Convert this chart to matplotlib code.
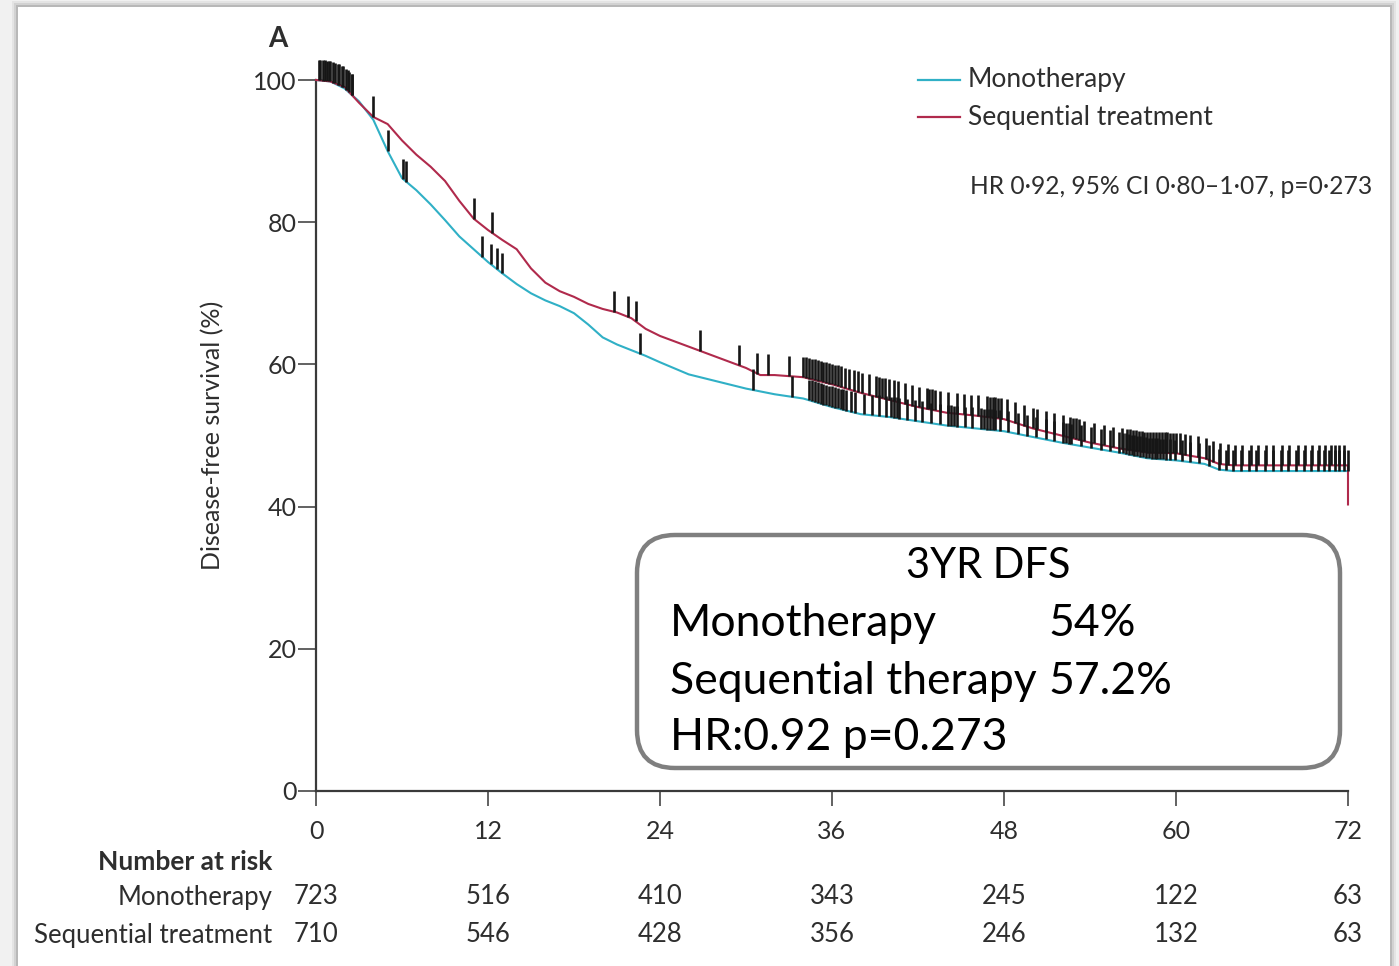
import numpy as np
import matplotlib
matplotlib.use("Agg")
import matplotlib.pyplot as plt
from matplotlib.patches import FancyBboxPatch, Rectangle
from matplotlib.lines import Line2D
from matplotlib.transforms import IdentityTransform, blended_transform_factory

# ---- data -------------------------------------------------------------
mono_t = [0, 1, 2, 3, 4, 5, 6, 7, 8, 9, 10, 11, 12, 13, 14, 15, 16, 17, 18,
          19, 20, 21, 22, 23, 24, 26, 28, 30, 32, 34, 36, 38, 40, 42, 44, 46,
          48, 50, 52, 54, 56, 58, 60, 62, 63, 64, 66, 68, 70, 72]
mono_s = [100, 99.8, 98.8, 97.0, 94.4, 90.0, 86.2, 84.5, 82.5, 80.3, 78.0,
          76.2, 74.4, 72.8, 71.3, 70.0, 69.0, 68.2, 67.2, 65.6, 63.8, 62.8,
          62.0, 61.2, 60.3, 58.6, 57.6, 56.6, 55.8, 55.2, 54.0, 53.0, 52.6,
          52.0, 51.4, 51.0, 50.6, 49.8, 49.0, 48.3, 47.6, 46.8, 46.5, 46.0,
          45.2, 45.0, 45.0, 45.0, 45.0, 45.0]

seq_t = [0, 1, 2, 3, 4, 5, 6, 7, 8, 9, 10, 11, 12, 13, 14, 15, 16, 17, 18,
         19, 20, 21, 22, 23, 24, 26, 28, 30, 31, 32, 34, 36, 38, 40, 42, 44,
         46, 48, 50, 52, 54, 56, 58, 60, 62, 63, 64, 66, 68, 70, 72, 72]
seq_s = [100, 99.8, 99.0, 96.8, 94.8, 93.8, 91.5, 89.5, 87.8, 85.8, 83.0,
         80.5, 78.9, 77.5, 76.2, 73.5, 71.5, 70.3, 69.5, 68.5, 67.8, 67.3,
         66.5, 65.0, 64.0, 62.5, 61.0, 59.5, 58.5, 58.5, 58.2, 57.2, 56.0,
         55.0, 54.0, 53.2, 52.8, 52.3, 51.0, 50.0, 49.0, 48.2, 47.6, 47.5,
         46.8, 46.0, 45.8, 45.8, 45.8, 45.8, 45.8, 40.3]

mono_censor = [0.3, 0.6, 0.9, 1.2, 1.5, 1.8, 2.1, 2.3, 2.5, 5.0, 6.1, 6.3,
               11.6, 12.2, 12.6, 13.0, 22.6, 30.5, 33.2,
               34.4, 34.6, 34.8, 35.0, 35.2, 35.4, 35.6, 35.8, 36.0, 36.2,
               36.4, 36.6, 36.8, 37.0, 37.3, 37.6, 38.2, 38.8, 39.3, 39.8,
               40.1, 40.3, 40.5, 40.7, 41.2, 41.8, 42.3, 42.9, 43.5, 44.1,
               44.3, 44.5, 44.7, 45.3, 45.8, 46.4, 46.6, 46.8, 47.0, 47.2,
               47.4, 47.7, 48.3, 49.0, 49.6, 50.2, 50.9, 51.5, 52.1, 52.3,
               52.5, 52.7, 53.4, 54.1, 54.8, 55.4, 56.0, 56.3, 56.5, 56.7,
               56.9, 57.1, 57.3, 57.5, 57.7, 57.9, 58.1, 58.3, 58.5, 58.7,
               58.9, 59.1, 59.3, 59.6, 59.9, 60.4, 61.0, 61.6, 62.3, 63.0,
               63.5, 64.0, 64.5, 65.1, 65.6, 66.2, 66.8, 67.3, 67.8, 68.4,
               68.9, 69.4, 69.9, 70.3, 70.7, 71.1, 71.4, 71.7, 72.0]
seq_censor = [0.2, 0.5, 0.8, 1.0, 1.3, 1.6, 1.9, 2.2, 2.5, 4.0, 11.0, 12.3,
              20.8, 21.8, 22.3, 26.8, 29.5, 30.8, 31.5, 33.0,
              34.0, 34.2, 34.4, 34.6, 34.8, 35.0, 35.2, 35.4, 35.6, 35.8,
              36.0, 36.2, 36.4, 36.6, 36.9, 37.2, 37.5, 37.8, 38.1, 38.6,
              39.1, 39.3, 39.5, 39.7, 40.0, 40.3, 40.6, 41.1, 41.6, 42.1,
              42.6, 42.8, 43.0, 43.2, 43.5, 44.1, 44.7, 45.2, 45.7, 46.2,
              46.8, 47.0, 47.2, 47.4, 47.6, 47.8, 48.2, 48.8, 49.4, 50.0,
              50.3, 50.9, 51.5, 52.1, 52.6, 52.8, 53.0, 53.2, 53.6, 54.3,
              55.0, 55.6, 56.2, 56.6, 56.8, 57.0, 57.2, 57.4, 57.6, 57.8,
              58.0, 58.2, 58.4, 58.6, 58.8, 59.0, 59.2, 59.4, 59.6, 59.8,
              60.0, 60.3, 60.6, 61.0, 61.5, 62.1, 62.6, 63.1, 63.6, 64.1,
              64.6, 65.2, 65.7, 66.3, 66.8, 67.4, 67.9, 68.5, 69.0, 69.5,
              70.0, 70.4, 70.8, 71.1, 71.4, 71.7]

x_ticks = [0, 12, 24, 36, 48, 60, 72]
y_ticks = [0, 20, 40, 60, 80, 100]
risk_mono = [723, 516, 410, 343, 245, 122, 63]
risk_seq = [710, 546, 428, 356, 246, 132, 63]

# ---- styling ----------------------------------------------------------
W, H = 1399, 966
TEAL = "#30b0c6"
CRIMSON = "#b02a4c"
CENSOR = "#161616"
TXT = "#2e2e2e"
FONT = ["Lato", "DejaVu Sans"]
BOXFONT = ["Lato", "DejaVu Sans"]

plt.rcParams["font.family"] = FONT

fig = plt.figure(figsize=(W / 100, H / 100), dpi=100)
fig.patch.set_facecolor("#f1f1f1")


def fx(px):
    return px / W


def fy(py):
    return 1 - py / H


# page with a soft shadow (kept beneath the axes)
for off, a in [(6, 0.05), (4, 0.08), (2, 0.12)]:
    fig.patches.append(Rectangle((fx(18 - off), 0), fx(1390 - 18 + 2 * off),
                                 fy(7 - off), transform=fig.transFigure,
                                 facecolor="black", alpha=a, edgecolor="none",
                                 zorder=-3))
fig.patches.append(Rectangle((fx(18), 0), fx(1390 - 18), fy(7),
                             transform=fig.transFigure, facecolor="white",
                             edgecolor="none", zorder=-2))

ax = fig.add_axes([fx(316), fy(791), fx(1348) - fx(316), fy(80) - fy(791)])
ax.set_facecolor("none")
ax.set_xlim(0, 72)
ax.set_ylim(0, 100)
for side in ("top", "right"):
    ax.spines[side].set_visible(False)
for side in ("left", "bottom"):
    ax.spines[side].set_color("#3a3a3a")
    ax.spines[side].set_linewidth(1.6)

ax.set_xticks(x_ticks)
ax.set_yticks(y_ticks)
ax.tick_params(axis="x", direction="out", length=11, width=1.3,
               colors="#555555", labelcolor=TXT, labelsize=18, pad=10)
ax.tick_params(axis="y", direction="out", length=13, width=1.3,
               colors="#555555", labelcolor=TXT, labelsize=18, pad=1)

# survival curves (the last sequential point is the drop at 72 months)
ax.plot(mono_t, mono_s, color=TEAL, lw=1.5, clip_on=False, zorder=3)
ax.plot(seq_t, seq_s, color=CRIMSON, lw=1.5, clip_on=False, zorder=4)

# censoring marks sit on each curve and point upward
mc = np.array(mono_censor)
sc = np.array(seq_censor)
ym = np.interp(mc, mono_t, mono_s)
ys = np.interp(sc, seq_t[:-1], seq_s[:-1])
ax.vlines(mc, ym, ym + 2.9, color=CENSOR, lw=1.9, clip_on=False, zorder=5)
ax.vlines(sc, ys, ys + 2.9, color=CENSOR, lw=1.9, clip_on=False, zorder=5)

# panel letter and axis label
fig.text(fx(268), fy(39), "A", fontsize=20, fontweight="bold", color=TXT,
         va="center", ha="left")
fig.text(fx(213), fy(435), "Disease-free survival (%)", rotation=90,
         fontsize=18, color=TXT, ha="center", va="center")

# legend
for yy, col, lab in [(80, TEAL, "Monotherapy"),
                     (117, CRIMSON, "Sequential treatment")]:
    fig.lines.append(Line2D([fx(918), fx(960)], [fy(yy), fy(yy)],
                            transform=fig.transFigure, color=col, lw=1.6))
    fig.text(fx(968), fy(yy), lab, fontsize=19, color=TXT, va="center",
             ha="left")
fig.text(fx(970), fy(187),
         "HR 0\u00b792, 95% CI 0\u00b780\u20131\u00b707, p=0\u00b7273",
         fontsize=17.7, color=TXT, va="center", ha="left")

# number at risk table
fig.text(fx(272), fy(862), "Number at risk", fontsize=19, fontweight="bold",
         color=TXT, ha="right", va="center")
fig.text(fx(272), fy(897), "Monotherapy", fontsize=18.5, color=TXT,
         ha="right", va="center")
fig.text(fx(272), fy(935), "Sequential treatment", fontsize=18.5, color=TXT,
         ha="right", va="center")
bt = blended_transform_factory(ax.transData, fig.transFigure)
for xv, a, b in zip(x_ticks, risk_mono, risk_seq):
    ax.text(xv, fy(897), str(a), transform=bt, fontsize=18.5, color=TXT,
            ha="center", va="center")
    ax.text(xv, fy(935), str(b), transform=bt, fontsize=18.5, color=TXT,
            ha="center", va="center")

# summary box
box = FancyBboxPatch((637, H - 768), 1340 - 637, 768 - 535,
                     boxstyle="round,pad=0,rounding_size=38",
                     transform=IdentityTransform(), facecolor="white",
                     edgecolor="#7f7f7f", lw=3.2, zorder=6)
fig.patches.append(box)
BS = 32
fig.text(fx(988), fy(566), "3YR DFS", family=BOXFONT, fontsize=30,
         color="black", ha="center", va="center", zorder=7)
fig.text(fx(670), fy(623), "Monotherapy", family=BOXFONT, fontsize=BS,
         color="black", ha="left", va="center", zorder=7)
fig.text(fx(1048), fy(623), "54%", family=BOXFONT, fontsize=BS,
         color="black", ha="left", va="center", zorder=7)
fig.text(fx(670), fy(681), "Sequential therapy", family=BOXFONT, fontsize=BS,
         color="black", ha="left", va="center", zorder=7)
fig.text(fx(1048), fy(681), "57.2%", family=BOXFONT, fontsize=BS,
         color="black", ha="left", va="center", zorder=7)
fig.text(fx(670), fy(738), "HR:0.92 p=0.273", family=BOXFONT, fontsize=BS,
         color="black", ha="left", va="center", zorder=7)

fig.savefig("out.png", dpi=100, facecolor=fig.get_facecolor())
